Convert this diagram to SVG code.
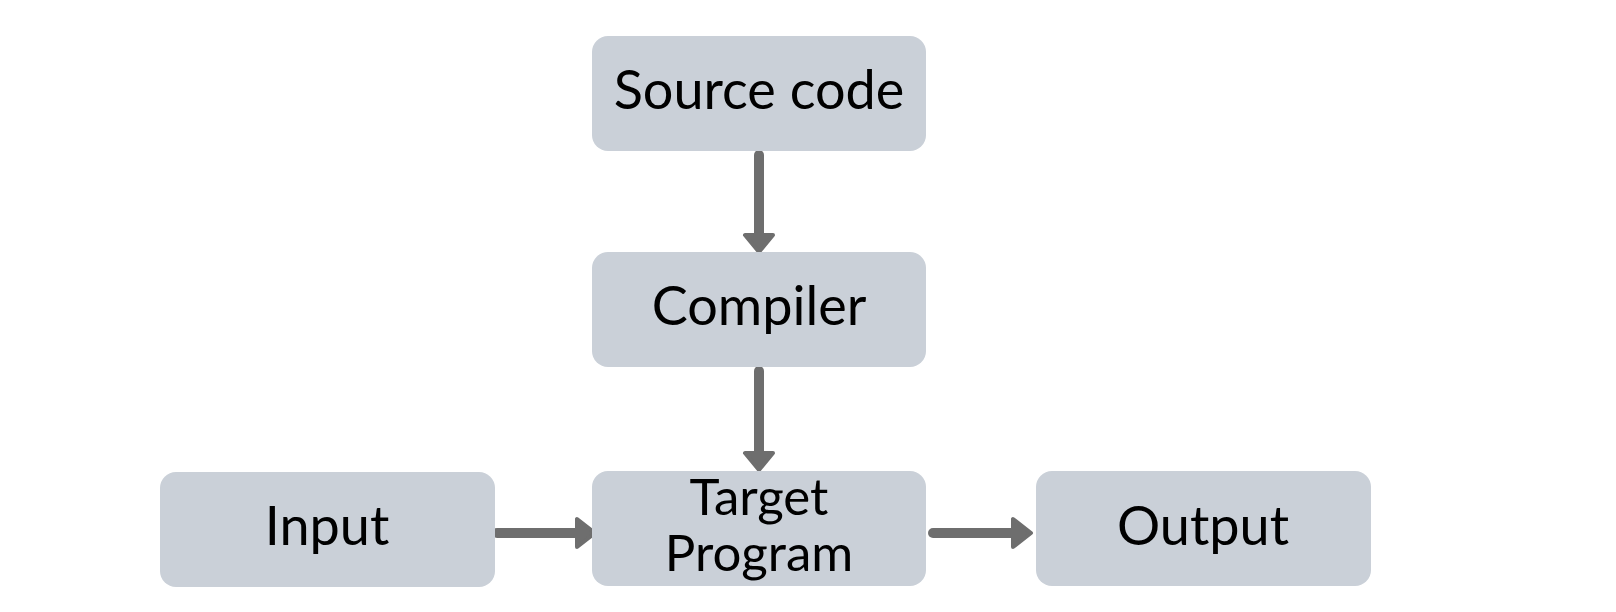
<svg xmlns="http://www.w3.org/2000/svg" width="1616" height="612" viewBox="0 0 1616 612">
  <style>
    .box { fill: #cad0d8; }
    .label { font-family: Lato, "Open Sans", sans-serif; font-size: 54px; fill: #000; text-anchor: middle; }
    .tight { font-size: 51px; }
    .edge { stroke: #6e6e6e; stroke-width: 10; stroke-linecap: round; fill: none; }
    .head { fill: #6e6e6e; stroke: #6e6e6e; stroke-width: 4; stroke-linejoin: round; }
  </style>
  <rect width="1616" height="612" fill="#fff"/>

  <g id="connectors">
    <!-- Source code -> Compiler -->
    <line class="edge" x1="759" y1="155" x2="759" y2="236"/>
    <polygon class="head" points="745,235 773,235 759,252"/>
    <!-- Compiler -> Target Program -->
    <line class="edge" x1="759" y1="371" x2="759" y2="454"/>
    <polygon class="head" points="745,453 773,453 759,470"/>
    <!-- Input -> Target Program -->
    <line class="edge" x1="497" y1="533" x2="578" y2="533"/>
    <polygon class="head" points="577,519 577,547 595,533"/>
    <!-- Target Program -> Output -->
    <line class="edge" x1="933" y1="533" x2="1014" y2="533"/>
    <polygon class="head" points="1013,519 1013,547 1031,533"/>
  </g>

  <g id="source-code">
    <rect class="box" x="592" y="36" width="334" height="115" rx="16"/>
    <text class="label" x="759" y="109">Source code</text>
  </g>
  <g id="compiler">
    <rect class="box" x="592" y="252" width="334" height="115" rx="16"/>
    <text class="label" x="759" y="325">Compiler</text>
  </g>
  <g id="input">
    <rect class="box" x="160" y="472" width="335" height="115" rx="16"/>
    <text class="label" x="327" y="545">Input</text>
  </g>
  <g id="target-program">
    <rect class="box" x="592" y="471" width="334" height="115" rx="16"/>
    <text class="label tight" x="759" y="515"><tspan x="759" y="515">Target</tspan><tspan x="759" y="571">Program</tspan></text>
  </g>
  <g id="output">
    <rect class="box" x="1036" y="471" width="335" height="115" rx="16"/>
    <text class="label" x="1203" y="545">Output</text>
  </g>
</svg>
